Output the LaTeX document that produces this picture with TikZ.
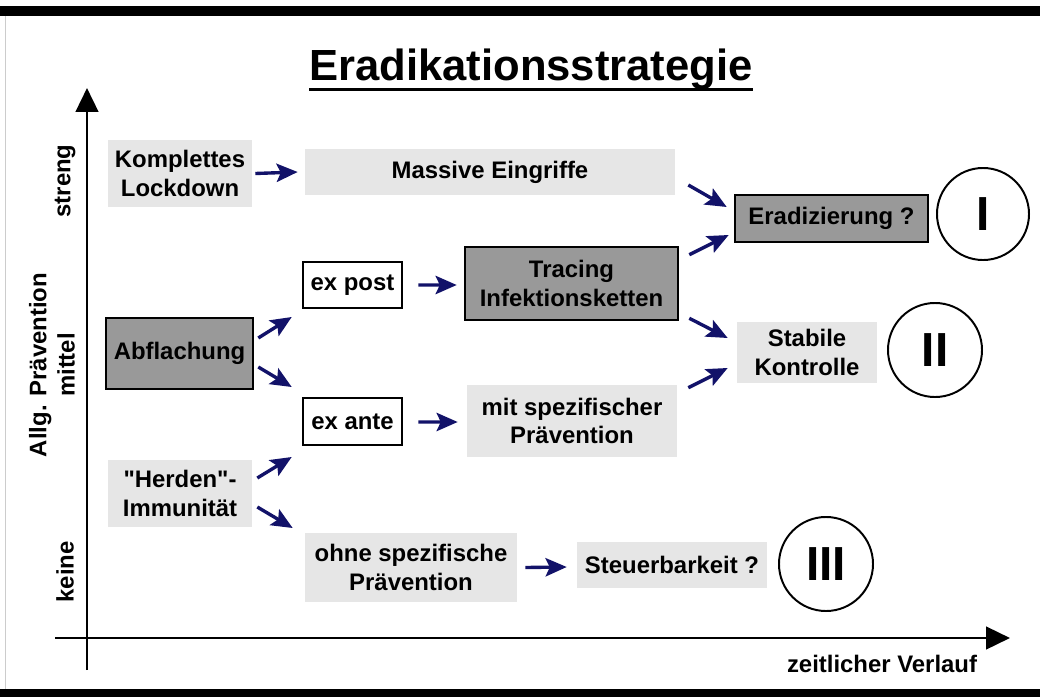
\documentclass[tikz,border=0pt]{standalone}
\usepackage{fontspec}
\setmainfont{Liberation Sans}
\newfontfamily\quotefont{Liberation Sans}
\usetikzlibrary{arrows.meta}
\definecolor{arrowblue}{RGB}{18,18,105}
\definecolor{boxlight}{RGB}{230,230,230}
\definecolor{boxdark}{RGB}{153,153,153}
\tikzset{
  lightbox/.style={fill=boxlight, align=center, inner sep=0pt},
  darkbox/.style={fill=boxdark, draw=black, line width=1.8pt, align=center, inner sep=0pt},
  whitebox/.style={fill=white, draw=black, line width=1.8pt, align=center, inner sep=0pt},
  phase/.style={circle, draw=black, line width=1.4pt, minimum size=2.3cm, inner sep=0pt,
    font=\fontsize{34}{34}\selectfont\bfseries},
  arr/.style={draw=arrowblue, line width=2.4pt, -{Stealth[length=15pt,width=13pt,inset=3pt]}},
  axis/.style={line width=2pt, -{Triangle[length=17pt,width=16pt]}},
}
\begin{document}
\begin{tikzpicture}[x=0.025cm,y=-0.025cm,font=\fontsize{17}{20}\selectfont\bfseries]
  \useasboundingbox (0,0) rectangle (1040,697);
  % frame
  \fill (0,6) rectangle (1040,16);
  \fill (0,689) rectangle (1040,697);
  \draw[gray!40, line width=0.6pt] (5,16) -- (5,689);
  % title
  \node[anchor=base, inner sep=0pt] (title) at (531,80) {\fontsize{31}{31}\selectfont Eradikationsstrategie};
  \draw[line width=2pt] ([yshift=-7pt]title.base west) -- ([yshift=-7pt]title.base east);
  % axes
  \draw[axis] (87,670) -- (87,88);
  \draw[axis] (55,638) -- (1010,638);
  \node[rotate=90] (streng) at (65,181) {streng};
  \node[rotate=90, align=center] (mittel) at (52,365) {Allg. Prävention\\mittel};
  \node[rotate=90] (keine) at (65,572) {keine};
  \node (verlauf) at (882,664) {zeitlicher Verlauf};
  % boxes
  \node[lightbox, minimum width=3.6cm, minimum height=1.675cm] (lock) at (180,173.5) {Komplettes\\Lockdown};
  \node[lightbox, minimum width=9.25cm, minimum height=1.15cm] (massive) at (490,172) {Massive Eingriffe};
  \node[darkbox, minimum width=4.825cm, minimum height=1.175cm] (erad) at (831.5,218.5) {Eradizierung ?};
  \node[darkbox, minimum width=3.675cm, minimum height=1.775cm] (flach) at (179.5,353.5) {Abflachung};
  \node[whitebox, minimum width=2.475cm, minimum height=1.15cm] (post) at (352.5,285) {ex post};
  \node[whitebox, minimum width=2.475cm, minimum height=1.175cm] (ante) at (352.5,421.5) {ex ante};
  \node[darkbox, minimum width=5.325cm, minimum height=1.825cm] (trace) at (571.5,283.5) {Tracing\\Infektionsketten};
  \node[lightbox, minimum width=5.25cm, minimum height=1.8cm] (mit) at (572,421) {mit spezifischer\\Prävention};
  \node[lightbox, minimum width=3.5cm, minimum height=1.525cm] (stabil) at (807,352.5) {Stabile\\Kontrolle};
  \node[lightbox, minimum width=3.6cm, minimum height=1.675cm] (herd) at (180,493.5) {{\quotefont\bfseries "Herden"-}\\Immunität};
  \node[lightbox, minimum width=5.3cm, minimum height=1.725cm] (ohne) at (411,567.5) {ohne spezifische\\Prävention};
  \node[lightbox, minimum width=4.75cm, minimum height=1.15cm] (steuer) at (672,565) {Steuerbarkeit ?};
  % phases
  \node[phase] (p1) at (983,214) {I};
  \node[phase, minimum size=2.35cm] (p2) at (935,350) {II};
  \node[phase, minimum size=2.35cm] (p3) at (826,564) {III};
  % arrows
  \draw[arr] ([shift={(3,0)}]lock.east) -- ([shift={(-7,0)}]massive.west);
  \draw[arr] ([shift={(13,13)}]massive.east) -- ([shift={(-7,-11.5)}]erad.west);
  \draw[arr] ([shift={(10,9)}]trace.north east) -- ([shift={(-5,16.5)}]erad.west);
  \draw[arr] ([shift={(10,-3)}]trace.south east) -- ([shift={(-9,-14.5)}]stabil.west);
  \draw[arr] ([shift={(11,3)}]mit.north east) -- ([shift={(-9,15.5)}]stabil.west);
  \draw[arr] ([shift={(15,0)}]post.east) -- ([shift={(-7,1.5)}]trace.west);
  \draw[arr] ([shift={(15,0.5)}]ante.east) -- ([shift={(-9,1)}]mit.west);
  \draw[arr] ([shift={(4,-15.5)}]flach.east) -- ([shift={(-10,32)}]post.west);
  \draw[arr] ([shift={(4,13.5)}]flach.east) -- ([shift={(-10,-34.5)}]ante.west);
  \draw[arr] ([shift={(5,-15.5)}]herd.east) -- ([shift={(-10,35.5)}]ante.west);
  \draw[arr] ([shift={(5,13.5)}]herd.east) -- ([shift={(-12,-39.5)}]ohne.west);
  \draw[arr] ([shift={(8,0)}]ohne.east) -- ([shift={(-10,2)}]steuer.west);
\end{tikzpicture}
\end{document}
